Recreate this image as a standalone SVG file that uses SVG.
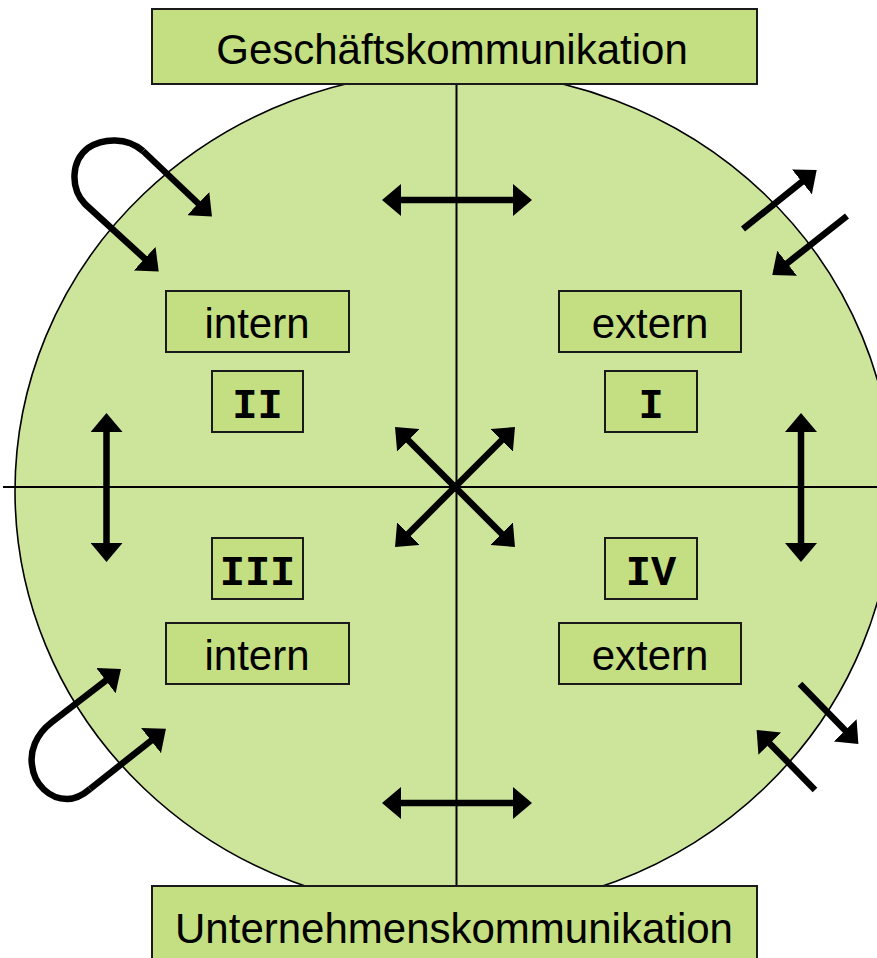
<svg xmlns="http://www.w3.org/2000/svg" width="877" height="958" viewBox="0 0 877 958">
<style>
.bg{fill:#fff}
.disc{fill:#cde49b;stroke:#000;stroke-width:1.6}
.axis{stroke:#000;stroke-width:2;fill:none}
.box{fill:#c3df81;stroke:#1a1a1a;stroke-width:2}
.lbl{font-family:"Liberation Sans",Arial,sans-serif;font-size:42px;fill:#000;text-anchor:middle}
.ttl{font-family:"Liberation Sans",Arial,sans-serif;font-size:42px;fill:#000;text-anchor:middle}
.num{font-family:"Liberation Mono","Courier New",monospace;font-weight:bold;font-size:42px;fill:#000;text-anchor:middle}
.arr{stroke:#000;stroke-width:6.5;fill:none;stroke-linecap:butt;stroke-linejoin:round;marker-end:url(#head)}
.arr2{marker-start:url(#head)}
</style>
<defs>
<marker id="head" markerUnits="userSpaceOnUse" viewBox="0 0 19 32" markerWidth="19" markerHeight="32" refX="8" refY="16" orient="auto-start-reverse">
<path d="M0,0 L19,16 L0,32 z" fill="#000"/>
</marker>
</defs>
<rect class="bg" x="0" y="0" width="877" height="958"/>
<g id="disc">
<ellipse class="disc" cx="454" cy="491" rx="439" ry="420"/>
<path class="axis" d="M3,487 L877,487 M456.5,84 L456.5,886"/>
</g>
<g id="top-title">
<rect class="box" x="152" y="9" width="605" height="75"/>
<text class="ttl" x="452" y="64">Geschäftskommunikation</text>
</g>
<g id="bottom-title">
<rect class="box" x="152" y="886" width="605" height="80"/>
<text class="ttl" x="454" y="943">Unternehmenskommunikation</text>
</g>
<g id="intern-top">
<rect class="box" x="166" y="291" width="183" height="61"/>
<text class="lbl" x="257" y="338">intern</text>
</g>
<g id="extern-top">
<rect class="box" x="559" y="291" width="182" height="61"/>
<text class="lbl" x="650" y="338">extern</text>
</g>
<g id="q2">
<rect class="box" x="212" y="371" width="91" height="61"/>
<text class="num" x="257.5" y="418">II</text>
</g>
<g id="q1">
<rect class="box" x="605" y="371" width="92" height="61"/>
<text class="num" x="651" y="418">I</text>
</g>
<g id="q3">
<rect class="box" x="212" y="538" width="91" height="61"/>
<text class="num" x="257.5" y="585">III</text>
</g>
<g id="q4">
<rect class="box" x="605" y="538" width="92" height="61"/>
<text class="num" x="651" y="585">IV</text>
</g>
<g id="intern-bottom">
<rect class="box" x="166" y="623" width="183" height="61"/>
<text class="lbl" x="257" y="670">intern</text>
</g>
<g id="extern-bottom">
<rect class="box" x="559" y="623" width="182" height="61"/>
<text class="lbl" x="650" y="670">extern</text>
</g>
<g id="connectors">
<path class="arr arr2" d="M393,200 L521,200"/>
<path class="arr arr2" d="M393,803 L521,803"/>
<path class="arr arr2" d="M106.5,424 L106.5,551"/>
<path class="arr arr2" d="M801,424 L801,551"/>
<path class="arr arr2" d="M402.8,434.8 L507.2,539.2"/>
<path class="arr arr2" d="M507.2,434.8 L402.8,539.2"/>
<path class="arr" d="M743,229 L808.1,176.9"/>
<path class="arr" d="M847,216 L780.9,268.2"/>
<path class="arr" d="M800,684 L850.7,736.1"/>
<path class="arr" d="M815,790 L764.3,737.9"/>
<path class="arr" d="M143,151 C127,137 103,138 88,148 C71,161 70,188 85,204 L150.6,264"/>
<path class="arr" d="M143,151 L204,209"/>
<path class="arr" d="M90,789 C83,795 76,799 67,799 C50,799 34,785 32,765 C30,752 35,735 52,722 L112.2,675.7"/>
<path class="arr" d="M90,789 L157.3,735.7"/>
</g>
</svg>
